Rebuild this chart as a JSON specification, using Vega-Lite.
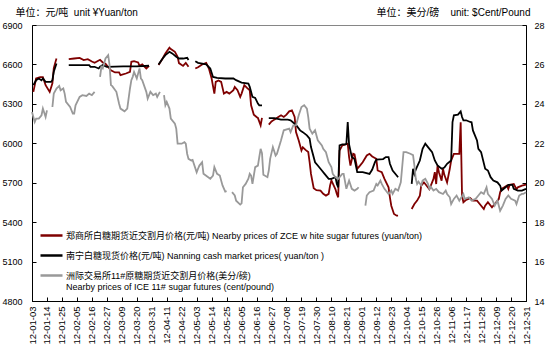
{
"$schema":"https://vega.github.io/schema/vega-lite/v6.json",
"width":494,"height":276,
"autosize":{"type":"none"},
"padding":{"left":32,"top":25,"right":21,"bottom":50},
"config":{"view":{"stroke":"#868686","strokeWidth":1},"font":"Liberation Sans, Noto Sans CJK SC",
 "axis":{"labelFont":"Liberation Sans","labelFontSize":9,"labelColor":"#000","domainColor":"#000","tickColor":"#000","grid":false,"labelOverlap":false,"titleFont":"Liberation Sans, Noto Sans CJK SC","titleFontSize":10,"titleFontWeight":"normal","titleColor":"#000"},
 "axisX":{"labelOverlap":false},"axisY":{"labelOverlap":false},
 "legend":{"labelFont":"Liberation Sans, Noto Sans CJK SC","labelFontSize":9,"labelColor":"#000"}},
"datasets":{
"cny":[
{"s":"Z","d":"2012/01/04","v":6391},{"s":"Z","d":"2012/01/06","v":6493},{"s":"Z","d":"2012/01/09","v":6503},{"s":"Z","d":"2012/01/11","v":6503},{"s":"Z","d":"2012/01/13","v":6442},{"s":"Z","d":"2012/01/16","v":6391},{"s":"Z","d":"2012/01/18","v":6457},{"s":"Z","d":"2012/01/19","v":6572},{"s":"Z","d":"2012/01/20","v":6610},{"s":"Z","d":"2012/01/21","v":6645},{"s":"Z","d":"2012/01/25","v":null},
{"s":"Z","d":"2012/01/30","v":6640},{"s":"Z","d":"2012/02/03","v":6645},{"s":"Z","d":"2012/02/07","v":6650},{"s":"Z","d":"2012/02/10","v":6633},{"s":"Z","d":"2012/02/13","v":6640},{"s":"Z","d":"2012/02/16","v":6622},{"s":"Z","d":"2012/02/18","v":6612},{"s":"Z","d":"2012/02/22","v":6635},{"s":"Z","d":"2012/02/24","v":6615},{"s":"Z","d":"2012/02/26","v":6605},{"s":"Z","d":"2012/03/01","v":6556},{"s":"Z","d":"2012/03/04","v":6539},{"s":"Z","d":"2012/03/07","v":6539},{"s":"Z","d":"2012/03/08","v":6518},{"s":"Z","d":"2012/03/12","v":6531},{"s":"Z","d":"2012/03/15","v":6544},{"s":"Z","d":"2012/03/16","v":6620},{"s":"Z","d":"2012/03/18","v":6625},{"s":"Z","d":"2012/03/21","v":6615},{"s":"Z","d":"2012/03/22","v":6589},{"s":"Z","d":"2012/03/24","v":6600},{"s":"Z","d":"2012/03/27","v":6569},{"s":"Z","d":"2012/03/29","v":6589},{"s":"Z","d":"2012/04/02","v":null},
{"s":"Z","d":"2012/04/05","v":6595},{"s":"Z","d":"2012/04/08","v":6645},{"s":"Z","d":"2012/04/10","v":6684},{"s":"Z","d":"2012/04/13","v":6727},{"s":"Z","d":"2012/04/14","v":6717},{"s":"Z","d":"2012/04/17","v":6696},{"s":"Z","d":"2012/04/19","v":6658},{"s":"Z","d":"2012/04/20","v":6610},{"s":"Z","d":"2012/04/23","v":6589},{"s":"Z","d":"2012/04/25","v":6612},{"s":"Z","d":"2012/04/27","v":6582},{"s":"Z","d":"2012/04/30","v":null},
{"s":"Z","d":"2012/05/02","v":6569},{"s":"Z","d":"2012/05/04","v":6579},{"s":"Z","d":"2012/05/07","v":6600},{"s":"Z","d":"2012/05/10","v":6612},{"s":"Z","d":"2012/05/12","v":6569},{"s":"Z","d":"2012/05/14","v":6493},{"s":"Z","d":"2012/05/16","v":6378},{"s":"Z","d":"2012/05/17","v":6467},{"s":"Z","d":"2012/05/19","v":6478},{"s":"Z","d":"2012/05/21","v":6467},{"s":"Z","d":"2012/05/23","v":6378},{"s":"Z","d":"2012/05/25","v":6391},{"s":"Z","d":"2012/05/27","v":6378},{"s":"Z","d":"2012/05/30","v":6404},{"s":"Z","d":"2012/05/31","v":6429},{"s":"Z","d":"2012/06/02","v":6404},{"s":"Z","d":"2012/06/04","v":6353},{"s":"Z","d":"2012/06/05","v":6378},{"s":"Z","d":"2012/06/07","v":6442},{"s":"Z","d":"2012/06/09","v":6421},{"s":"Z","d":"2012/06/11","v":6404},{"s":"Z","d":"2012/06/12","v":6289},{"s":"Z","d":"2012/06/14","v":6218},{"s":"Z","d":"2012/06/16","v":6200},{"s":"Z","d":"2012/06/17","v":6193},{"s":"Z","d":"2012/06/19","v":6136},{"s":"Z","d":"2012/06/20","v":6193},{"s":"Z","d":"2012/06/22","v":null},
{"s":"Z","d":"2012/06/25","v":6142},{"s":"Z","d":"2012/06/27","v":6166},{"s":"Z","d":"2012/06/29","v":6180},{"s":"Z","d":"2012/07/02","v":6200},{"s":"Z","d":"2012/07/04","v":6213},{"s":"Z","d":"2012/07/06","v":6200},{"s":"Z","d":"2012/07/08","v":6218},{"s":"Z","d":"2012/07/10","v":6243},{"s":"Z","d":"2012/07/12","v":6251},{"s":"Z","d":"2012/07/14","v":6200},{"s":"Z","d":"2012/07/15","v":6085},{"s":"Z","d":"2012/07/17","v":6022},{"s":"Z","d":"2012/07/19","v":5945},{"s":"Z","d":"2012/07/20","v":5970},{"s":"Z","d":"2012/07/22","v":5950},{"s":"Z","d":"2012/07/24","v":5933},{"s":"Z","d":"2012/07/25","v":5856},{"s":"Z","d":"2012/07/26","v":5767},{"s":"Z","d":"2012/07/28","v":5658},{"s":"Z","d":"2012/07/30","v":5643},{"s":"Z","d":"2012/08/02","v":5640},{"s":"Z","d":"2012/08/04","v":5615},{"s":"Z","d":"2012/08/06","v":5602},{"s":"Z","d":"2012/08/08","v":5615},{"s":"Z","d":"2012/08/09","v":5678},{"s":"Z","d":"2012/08/10","v":5717},{"s":"Z","d":"2012/08/13","v":5650},{"s":"Z","d":"2012/08/14","v":5615},{"s":"Z","d":"2012/08/15","v":5589},{"s":"Z","d":"2012/08/16","v":5945},{"s":"Z","d":"2012/08/18","v":5984},{"s":"Z","d":"2012/08/20","v":5990},{"s":"Z","d":"2012/08/22","v":5997},{"s":"Z","d":"2012/08/23","v":5895},{"s":"Z","d":"2012/08/24","v":5831},{"s":"Z","d":"2012/08/26","v":5920},{"s":"Z","d":"2012/08/27","v":5915},{"s":"Z","d":"2012/08/29","v":5806},{"s":"Z","d":"2012/08/31","v":5830},{"s":"Z","d":"2012/09/02","v":5856},{"s":"Z","d":"2012/09/05","v":5907},{"s":"Z","d":"2012/09/07","v":5920},{"s":"Z","d":"2012/09/09","v":5900},{"s":"Z","d":"2012/09/12","v":5882},{"s":"Z","d":"2012/09/13","v":5793},{"s":"Z","d":"2012/09/16","v":5780},{"s":"Z","d":"2012/09/18","v":5729},{"s":"Z","d":"2012/09/21","v":5665},{"s":"Z","d":"2012/09/22","v":5589},{"s":"Z","d":"2012/09/23","v":5525},{"s":"Z","d":"2012/09/25","v":5462},{"s":"Z","d":"2012/09/27","v":5449},{"s":"Z","d":"2012/09/28","v":5449},{"s":"Z","d":"2012/10/03","v":null},
{"s":"Z","d":"2012/10/08","v":5500},{"s":"Z","d":"2012/10/10","v":5538},{"s":"Z","d":"2012/10/12","v":5564},{"s":"Z","d":"2012/10/14","v":5602},{"s":"Z","d":"2012/10/15","v":5678},{"s":"Z","d":"2012/10/17","v":5703},{"s":"Z","d":"2012/10/18","v":5690},{"s":"Z","d":"2012/10/21","v":5650},{"s":"Z","d":"2012/10/24","v":5729},{"s":"Z","d":"2012/10/25","v":5780},{"s":"Z","d":"2012/10/26","v":5690},{"s":"Z","d":"2012/10/27","v":5831},{"s":"Z","d":"2012/10/28","v":5780},{"s":"Z","d":"2012/10/30","v":5716},{"s":"Z","d":"2012/10/31","v":5806},{"s":"Z","d":"2012/11/01","v":5760},{"s":"Z","d":"2012/11/03","v":5703},{"s":"Z","d":"2012/11/05","v":5806},{"s":"Z","d":"2012/11/06","v":5869},{"s":"Z","d":"2012/11/08","v":5920},{"s":"Z","d":"2012/11/12","v":5920},{"s":"Z","d":"2012/11/13","v":6160},{"s":"Z","d":"2012/11/14","v":5600},{"s":"Z","d":"2012/11/15","v":5551},{"s":"Z","d":"2012/11/17","v":5570},{"s":"Z","d":"2012/11/20","v":5583},{"s":"Z","d":"2012/11/22","v":5564},{"s":"Z","d":"2012/11/25","v":5564},{"s":"Z","d":"2012/11/27","v":5538},{"s":"Z","d":"2012/11/30","v":5500},{"s":"Z","d":"2012/12/01","v":5525},{"s":"Z","d":"2012/12/03","v":5551},{"s":"Z","d":"2012/12/06","v":5513},{"s":"Z","d":"2012/12/08","v":5538},{"s":"Z","d":"2012/12/11","v":5576},{"s":"Z","d":"2012/12/12","v":5627},{"s":"Z","d":"2012/12/13","v":5653},{"s":"Z","d":"2012/12/15","v":5665},{"s":"Z","d":"2012/12/17","v":5678},{"s":"Z","d":"2012/12/18","v":5653},{"s":"Z","d":"2012/12/19","v":5685},{"s":"Z","d":"2012/12/22","v":5690},{"s":"Z","d":"2012/12/24","v":5650},{"s":"Z","d":"2012/12/25","v":5665},{"s":"Z","d":"2012/12/28","v":5678},{"s":"Z","d":"2012/12/31","v":5685},
{"s":"N","d":"2012/01/04","v":6442},{"s":"N","d":"2012/01/06","v":6480},{"s":"N","d":"2012/01/08","v":6493},{"s":"N","d":"2012/01/10","v":6480},{"s":"N","d":"2012/01/11","v":6493},{"s":"N","d":"2012/01/13","v":6467},{"s":"N","d":"2012/01/15","v":6467},{"s":"N","d":"2012/01/17","v":6467},{"s":"N","d":"2012/01/18","v":6480},{"s":"N","d":"2012/01/19","v":6544},{"s":"N","d":"2012/01/21","v":6607},{"s":"N","d":"2012/01/25","v":null},
{"s":"N","d":"2012/01/30","v":6595},{"s":"N","d":"2012/02/07","v":6595},{"s":"N","d":"2012/02/14","v":6595},{"s":"N","d":"2012/02/15","v":6582},{"s":"N","d":"2012/02/18","v":6582},{"s":"N","d":"2012/02/21","v":6569},{"s":"N","d":"2012/02/22","v":6582},{"s":"N","d":"2012/02/24","v":6595},{"s":"N","d":"2012/02/27","v":6582},{"s":"N","d":"2012/03/10","v":6585},{"s":"N","d":"2012/03/20","v":6585},{"s":"N","d":"2012/03/29","v":6590},{"s":"N","d":"2012/04/02","v":null},
{"s":"N","d":"2012/04/05","v":6600},{"s":"N","d":"2012/04/08","v":6645},{"s":"N","d":"2012/04/10","v":6671},{"s":"N","d":"2012/04/13","v":6696},{"s":"N","d":"2012/04/15","v":6684},{"s":"N","d":"2012/04/18","v":6658},{"s":"N","d":"2012/04/20","v":6645},{"s":"N","d":"2012/04/23","v":6645},{"s":"N","d":"2012/04/26","v":6650},{"s":"N","d":"2012/04/27","v":6633},{"s":"N","d":"2012/04/30","v":null},
{"s":"N","d":"2012/05/02","v":6625},{"s":"N","d":"2012/05/04","v":6612},{"s":"N","d":"2012/05/10","v":6600},{"s":"N","d":"2012/05/13","v":6569},{"s":"N","d":"2012/05/15","v":6505},{"s":"N","d":"2012/05/18","v":6498},{"s":"N","d":"2012/05/24","v":6493},{"s":"N","d":"2012/05/30","v":6493},{"s":"N","d":"2012/06/01","v":6480},{"s":"N","d":"2012/06/05","v":6462},{"s":"N","d":"2012/06/10","v":6455},{"s":"N","d":"2012/06/11","v":6429},{"s":"N","d":"2012/06/13","v":6353},{"s":"N","d":"2012/06/15","v":6345},{"s":"N","d":"2012/06/17","v":6302},{"s":"N","d":"2012/06/18","v":6289},{"s":"N","d":"2012/06/20","v":6289},{"s":"N","d":"2012/06/22","v":null},
{"s":"N","d":"2012/06/25","v":6192},{"s":"N","d":"2012/06/29","v":6192},{"s":"N","d":"2012/07/04","v":6180},{"s":"N","d":"2012/07/09","v":6180},{"s":"N","d":"2012/07/11","v":6175},{"s":"N","d":"2012/07/14","v":6149},{"s":"N","d":"2012/07/15","v":6140},{"s":"N","d":"2012/07/18","v":6098},{"s":"N","d":"2012/07/20","v":6085},{"s":"N","d":"2012/07/23","v":6060},{"s":"N","d":"2012/07/25","v":6035},{"s":"N","d":"2012/07/26","v":5971},{"s":"N","d":"2012/07/29","v":5856},{"s":"N","d":"2012/07/31","v":5831},{"s":"N","d":"2012/08/03","v":5793},{"s":"N","d":"2012/08/05","v":5767},{"s":"N","d":"2012/08/08","v":5729},{"s":"N","d":"2012/08/10","v":5729},{"s":"N","d":"2012/08/13","v":5742},{"s":"N","d":"2012/08/14","v":5691},{"s":"N","d":"2012/08/15","v":5665},{"s":"N","d":"2012/08/16","v":5984},{"s":"N","d":"2012/08/18","v":5991},{"s":"N","d":"2012/08/20","v":5991},{"s":"N","d":"2012/08/21","v":5995},{"s":"N","d":"2012/08/22","v":6162},{"s":"N","d":"2012/08/23","v":5991},{"s":"N","d":"2012/08/25","v":5895},{"s":"N","d":"2012/08/27","v":5880},{"s":"N","d":"2012/08/29","v":5780},{"s":"N","d":"2012/09/02","v":5780},{"s":"N","d":"2012/09/07","v":5767},{"s":"N","d":"2012/09/09","v":5800},{"s":"N","d":"2012/09/11","v":5856},{"s":"N","d":"2012/09/12","v":5875},{"s":"N","d":"2012/09/17","v":5880},{"s":"N","d":"2012/09/19","v":5895},{"s":"N","d":"2012/09/21","v":5895},{"s":"N","d":"2012/09/22","v":5844},{"s":"N","d":"2012/09/24","v":5793},{"s":"N","d":"2012/09/27","v":5755},{"s":"N","d":"2012/09/28","v":5742},{"s":"N","d":"2012/10/03","v":null},
{"s":"N","d":"2012/10/08","v":5691},{"s":"N","d":"2012/10/09","v":5806},{"s":"N","d":"2012/10/10","v":5767},{"s":"N","d":"2012/10/11","v":5800},{"s":"N","d":"2012/10/14","v":5869},{"s":"N","d":"2012/10/16","v":5958},{"s":"N","d":"2012/10/18","v":5997},{"s":"N","d":"2012/10/20","v":5971},{"s":"N","d":"2012/10/23","v":5933},{"s":"N","d":"2012/10/25","v":5869},{"s":"N","d":"2012/10/27","v":5831},{"s":"N","d":"2012/10/30","v":5806},{"s":"N","d":"2012/11/01","v":5815},{"s":"N","d":"2012/11/03","v":5844},{"s":"N","d":"2012/11/06","v":5869},{"s":"N","d":"2012/11/07","v":6162},{"s":"N","d":"2012/11/08","v":6213},{"s":"N","d":"2012/11/11","v":6218},{"s":"N","d":"2012/11/13","v":6243},{"s":"N","d":"2012/11/14","v":6200},{"s":"N","d":"2012/11/15","v":6175},{"s":"N","d":"2012/11/17","v":6175},{"s":"N","d":"2012/11/20","v":6162},{"s":"N","d":"2012/11/21","v":6160},{"s":"N","d":"2012/11/22","v":6098},{"s":"N","d":"2012/11/25","v":6022},{"s":"N","d":"2012/11/26","v":5958},{"s":"N","d":"2012/11/28","v":5933},{"s":"N","d":"2012/12/01","v":5806},{"s":"N","d":"2012/12/03","v":5793},{"s":"N","d":"2012/12/05","v":5742},{"s":"N","d":"2012/12/07","v":5717},{"s":"N","d":"2012/12/10","v":5703},{"s":"N","d":"2012/12/12","v":5678},{"s":"N","d":"2012/12/13","v":5640},{"s":"N","d":"2012/12/16","v":5665},{"s":"N","d":"2012/12/18","v":5684},{"s":"N","d":"2012/12/21","v":5684},{"s":"N","d":"2012/12/22","v":5653},{"s":"N","d":"2012/12/25","v":5640},{"s":"N","d":"2012/12/28","v":5640},{"s":"N","d":"2012/12/31","v":5653}],
"ice":[
{"s":"I","d":"2012/01/03","v":23.59},{"s":"I","d":"2012/01/05","v":23.08},{"s":"I","d":"2012/01/06","v":23.25},{"s":"I","d":"2012/01/08","v":23.25},{"s":"I","d":"2012/01/10","v":23.42},{"s":"I","d":"2012/01/11","v":23.76},{"s":"I","d":"2012/01/13","v":23.33},{"s":"I","d":"2012/01/14","v":23.67},{"s":"I","d":"2012/01/16","v":null},
{"s":"I","d":"2012/01/18","v":23.84},{"s":"I","d":"2012/01/19","v":24.52},{"s":"I","d":"2012/01/21","v":24.78},{"s":"I","d":"2012/01/23","v":24.91},{"s":"I","d":"2012/01/24","v":24.69},{"s":"I","d":"2012/01/26","v":24.78},{"s":"I","d":"2012/01/27","v":24.52},{"s":"I","d":"2012/01/28","v":24.10},{"s":"I","d":"2012/01/31","v":23.84},{"s":"I","d":"2012/02/02","v":23.51},{"s":"I","d":"2012/02/03","v":23.51},{"s":"I","d":"2012/02/04","v":23.93},{"s":"I","d":"2012/02/07","v":24.35},{"s":"I","d":"2012/02/09","v":24.44},{"s":"I","d":"2012/02/12","v":24.40},{"s":"I","d":"2012/02/14","v":24.52},{"s":"I","d":"2012/02/16","v":24.44},{"s":"I","d":"2012/02/18","v":24.61},{"s":"I","d":"2012/02/20","v":null},
{"s":"I","d":"2012/02/22","v":25.37},{"s":"I","d":"2012/02/23","v":25.88},{"s":"I","d":"2012/02/24","v":25.80},{"s":"I","d":"2012/02/26","v":26.30},{"s":"I","d":"2012/02/28","v":26.47},{"s":"I","d":"2012/02/29","v":25.96},{"s":"I","d":"2012/03/01","v":24.95},{"s":"I","d":"2012/03/02","v":24.90},{"s":"I","d":"2012/03/05","v":24.61},{"s":"I","d":"2012/03/07","v":24.01},{"s":"I","d":"2012/03/08","v":23.76},{"s":"I","d":"2012/03/11","v":23.62},{"s":"I","d":"2012/03/13","v":23.76},{"s":"I","d":"2012/03/15","v":24.78},{"s":"I","d":"2012/03/16","v":25.20},{"s":"I","d":"2012/03/17","v":25.37},{"s":"I","d":"2012/03/18","v":25.62},{"s":"I","d":"2012/03/20","v":25.29},{"s":"I","d":"2012/03/22","v":25.80},{"s":"I","d":"2012/03/23","v":25.29},{"s":"I","d":"2012/03/24","v":25.20},{"s":"I","d":"2012/03/27","v":24.61},{"s":"I","d":"2012/03/28","v":24.27},{"s":"I","d":"2012/03/30","v":24.61},{"s":"I","d":"2012/04/01","v":24.44},{"s":"I","d":"2012/04/03","v":24.52},{"s":"I","d":"2012/04/04","v":24.35},{"s":"I","d":"2012/04/06","v":24.61},{"s":"I","d":"2012/04/07","v":null},
{"s":"I","d":"2012/04/09","v":24.44},{"s":"I","d":"2012/04/10","v":23.93},{"s":"I","d":"2012/04/11","v":24.10},{"s":"I","d":"2012/04/13","v":23.76},{"s":"I","d":"2012/04/14","v":23.25},{"s":"I","d":"2012/04/17","v":23.00},{"s":"I","d":"2012/04/18","v":22.74},{"s":"I","d":"2012/04/19","v":21.98},{"s":"I","d":"2012/04/22","v":21.98},{"s":"I","d":"2012/04/24","v":22.06},{"s":"I","d":"2012/04/25","v":21.98},{"s":"I","d":"2012/04/26","v":21.47},{"s":"I","d":"2012/04/27","v":21.21},{"s":"I","d":"2012/04/29","v":21.13},{"s":"I","d":"2012/04/30","v":21.16},{"s":"I","d":"2012/05/03","v":20.53},{"s":"I","d":"2012/05/04","v":20.71},{"s":"I","d":"2012/05/05","v":20.87},{"s":"I","d":"2012/05/07","v":21.04},{"s":"I","d":"2012/05/08","v":20.45},{"s":"I","d":"2012/05/10","v":20.35},{"s":"I","d":"2012/05/13","v":20.20},{"s":"I","d":"2012/05/15","v":20.36},{"s":"I","d":"2012/05/16","v":20.79},{"s":"I","d":"2012/05/18","v":20.45},{"s":"I","d":"2012/05/20","v":20.36},{"s":"I","d":"2012/05/22","v":19.86},{"s":"I","d":"2012/05/24","v":19.55},{"s":"I","d":"2012/05/25","v":19.57},{"s":"I","d":"2012/05/27","v":null},
{"s":"I","d":"2012/05/29","v":19.52},{"s":"I","d":"2012/05/31","v":19.35},{"s":"I","d":"2012/06/01","v":19.09},{"s":"I","d":"2012/06/04","v":18.89},{"s":"I","d":"2012/06/05","v":18.95},{"s":"I","d":"2012/06/06","v":19.77},{"s":"I","d":"2012/06/08","v":19.94},{"s":"I","d":"2012/06/10","v":20.20},{"s":"I","d":"2012/06/11","v":20.45},{"s":"I","d":"2012/06/12","v":20.36},{"s":"I","d":"2012/06/13","v":19.94},{"s":"I","d":"2012/06/15","v":20.79},{"s":"I","d":"2012/06/17","v":20.87},{"s":"I","d":"2012/06/18","v":21.30},{"s":"I","d":"2012/06/19","v":21.72},{"s":"I","d":"2012/06/20","v":21.50},{"s":"I","d":"2012/06/21","v":20.40},{"s":"I","d":"2012/06/24","v":20.28},{"s":"I","d":"2012/06/25","v":20.62},{"s":"I","d":"2012/06/26","v":21.21},{"s":"I","d":"2012/06/28","v":21.81},{"s":"I","d":"2012/06/30","v":21.38},{"s":"I","d":"2012/07/01","v":21.47},{"s":"I","d":"2012/07/04","v":22.15},{"s":"I","d":"2012/07/06","v":22.66},{"s":"I","d":"2012/07/10","v":22.74},{"s":"I","d":"2012/07/11","v":22.57},{"s":"I","d":"2012/07/13","v":22.91},{"s":"I","d":"2012/07/15","v":22.91},{"s":"I","d":"2012/07/17","v":23.42},{"s":"I","d":"2012/07/19","v":23.84},{"s":"I","d":"2012/07/21","v":23.93},{"s":"I","d":"2012/07/23","v":23.76},{"s":"I","d":"2012/07/24","v":23.33},{"s":"I","d":"2012/07/25","v":22.74},{"s":"I","d":"2012/07/27","v":22.49},{"s":"I","d":"2012/07/29","v":22.66},{"s":"I","d":"2012/07/31","v":22.15},{"s":"I","d":"2012/08/03","v":21.89},{"s":"I","d":"2012/08/04","v":21.72},{"s":"I","d":"2012/08/06","v":21.55},{"s":"I","d":"2012/08/08","v":21.04},{"s":"I","d":"2012/08/10","v":20.79},{"s":"I","d":"2012/08/11","v":20.45},{"s":"I","d":"2012/08/13","v":20.28},{"s":"I","d":"2012/08/15","v":20.20},{"s":"I","d":"2012/08/18","v":20.45},{"s":"I","d":"2012/08/19","v":20.45},{"s":"I","d":"2012/08/21","v":19.69},{"s":"I","d":"2012/08/23","v":20.11},{"s":"I","d":"2012/08/25","v":19.69},{"s":"I","d":"2012/08/27","v":19.60},{"s":"I","d":"2012/08/29","v":19.69},{"s":"I","d":"2012/08/30","v":19.77},{"s":"I","d":"2012/09/02","v":null},
{"s":"I","d":"2012/09/04","v":18.84},{"s":"I","d":"2012/09/05","v":19.35},{"s":"I","d":"2012/09/07","v":19.52},{"s":"I","d":"2012/09/10","v":19.60},{"s":"I","d":"2012/09/12","v":19.94},{"s":"I","d":"2012/09/13","v":19.86},{"s":"I","d":"2012/09/15","v":20.11},{"s":"I","d":"2012/09/16","v":19.94},{"s":"I","d":"2012/09/18","v":19.69},{"s":"I","d":"2012/09/21","v":19.43},{"s":"I","d":"2012/09/23","v":19.60},{"s":"I","d":"2012/09/24","v":19.43},{"s":"I","d":"2012/09/26","v":19.69},{"s":"I","d":"2012/09/28","v":19.60},{"s":"I","d":"2012/09/30","v":20.02},{"s":"I","d":"2012/10/02","v":21.55},{"s":"I","d":"2012/10/04","v":21.55},{"s":"I","d":"2012/10/07","v":21.47},{"s":"I","d":"2012/10/09","v":21.40},{"s":"I","d":"2012/10/10","v":20.87},{"s":"I","d":"2012/10/11","v":20.20},{"s":"I","d":"2012/10/12","v":19.94},{"s":"I","d":"2012/10/13","v":20.05},{"s":"I","d":"2012/10/15","v":19.86},{"s":"I","d":"2012/10/16","v":20.11},{"s":"I","d":"2012/10/18","v":20.20},{"s":"I","d":"2012/10/20","v":19.94},{"s":"I","d":"2012/10/21","v":19.69},{"s":"I","d":"2012/10/22","v":19.80},{"s":"I","d":"2012/10/24","v":19.60},{"s":"I","d":"2012/10/26","v":19.69},{"s":"I","d":"2012/10/28","v":19.52},{"s":"I","d":"2012/10/31","v":19.43},{"s":"I","d":"2012/11/02","v":19.60},{"s":"I","d":"2012/11/03","v":19.43},{"s":"I","d":"2012/11/05","v":19.26},{"s":"I","d":"2012/11/06","v":18.92},{"s":"I","d":"2012/11/08","v":19.18},{"s":"I","d":"2012/11/10","v":19.35},{"s":"I","d":"2012/11/12","v":19.09},{"s":"I","d":"2012/11/15","v":19.43},{"s":"I","d":"2012/11/16","v":19.18},{"s":"I","d":"2012/11/19","v":19.26},{"s":"I","d":"2012/11/21","v":19.09},{"s":"I","d":"2012/11/24","v":19.18},{"s":"I","d":"2012/11/26","v":19.35},{"s":"I","d":"2012/11/28","v":19.52},{"s":"I","d":"2012/11/30","v":19.43},{"s":"I","d":"2012/12/02","v":19.77},{"s":"I","d":"2012/12/03","v":19.43},{"s":"I","d":"2012/12/06","v":19.18},{"s":"I","d":"2012/12/08","v":18.84},{"s":"I","d":"2012/12/10","v":19.10},{"s":"I","d":"2012/12/12","v":18.58},{"s":"I","d":"2012/12/14","v":18.84},{"s":"I","d":"2012/12/16","v":19.18},{"s":"I","d":"2012/12/18","v":19.35},{"s":"I","d":"2012/12/20","v":19.18},{"s":"I","d":"2012/12/23","v":19.09},{"s":"I","d":"2012/12/24","v":18.92},{"s":"I","d":"2012/12/26","v":19.35},{"s":"I","d":"2012/12/28","v":19.43},{"s":"I","d":"2012/12/29","v":19.43},{"s":"I","d":"2012/12/31","v":19.52}]
},
"encoding":{
 "x":{"field":"d","type":"temporal","scale":{"domain":[{"year":2012,"month":1,"date":3},{"year":2012,"month":12,"date":31}],"nice":false},
  "axis":{"title":null,"orient":"bottom","format":"%y-%m-%d","labelAngle":-90,"labelFontSize":9.5,"tickSize":-4,"labelPadding":9,"labelFlush":false,"labelOverlap":false,
   "values":[{"year":2012,"month":1,"date":3},{"year":2012,"month":1,"date":14},{"year":2012,"month":1,"date":25},{"year":2012,"month":2,"date":5},{"year":2012,"month":2,"date":16},{"year":2012,"month":2,"date":27},{"year":2012,"month":3,"date":9},{"year":2012,"month":3,"date":20},{"year":2012,"month":3,"date":31},{"year":2012,"month":4,"date":11},{"year":2012,"month":4,"date":22},{"year":2012,"month":5,"date":3},{"year":2012,"month":5,"date":14},{"year":2012,"month":5,"date":25},{"year":2012,"month":6,"date":5},{"year":2012,"month":6,"date":16},{"year":2012,"month":6,"date":27},{"year":2012,"month":7,"date":8},{"year":2012,"month":7,"date":19},{"year":2012,"month":7,"date":30},{"year":2012,"month":8,"date":10},{"year":2012,"month":8,"date":21},{"year":2012,"month":9,"date":1},{"year":2012,"month":9,"date":12},{"year":2012,"month":9,"date":23},{"year":2012,"month":10,"date":4},{"year":2012,"month":10,"date":15},{"year":2012,"month":10,"date":26},{"year":2012,"month":11,"date":6},{"year":2012,"month":11,"date":17},{"year":2012,"month":11,"date":28},{"year":2012,"month":12,"date":9},{"year":2012,"month":12,"date":20},{"year":2012,"month":12,"date":31}]}}
},
"layer":[
  {"data":{"name":"cny"},
   "mark":{"type":"line","strokeWidth":1.8},
   "encoding":{
    "y":{"field":"v","type":"quantitative","scale":{"domain":[4800,6900],"zero":false,"nice":false},
     "axis":{"orient":"left","values":[4800,5100,5400,5700,6000,6300,6600,6900],"format":"d","tickSize":-4,"labelPadding":14,"labelOverlap":false,
      "title":"单位：元/吨\u00a0\u00a0unit ¥Yuan/ton","titleAngle":0,"titleAlign":"left","titleBaseline":"middle","titleX":-17,"titleY":-13}},
    "color":{"field":"s","type":"nominal","scale":{"domain":["Z","N","I"],"range":["#7f0000","#000000","#999999"]},
     "legend":{"orient":"none","legendX":7,"legendY":198,"title":null,"symbolType":"stroke","symbolSize":484,"symbolStrokeWidth":2.5,"rowPadding":2,"labelOffset":2,"labelLimit":0,
      "labelExpr":"datum.value == 'Z' ? '郑商所白糖期货近交割月价格(元/吨) Nearby prices of ZCE w hite sugar futures (yuan/ton)' : datum.value == 'N' ? '南宁白糖现货价格(元/吨) Nanning cash market prices( yuan/ton )' : ['洲际交易所11#原糖期货近交割月价格(美分/磅)', 'Nearby prices of ICE 11# sugar futures (cent/pound)']"}}}},
  {"data":{"name":"ice"},
   "mark":{"type":"line","strokeWidth":1.8},
   "encoding":{
    "y":{"field":"v","type":"quantitative","scale":{"domain":[14,28],"zero":false,"nice":false},
     "axis":{"orient":"right","values":[14,16,18,20,22,24,26,28],"tickSize":-4,"labelPadding":12,"labelOverlap":false,
      "title":"单位：美分/磅\u00a0\u00a0\u00a0\u00a0unit: $Cent/Pound","titleAngle":0,"titleAlign":"right","titleBaseline":"middle","titleX":4,"titleY":-13}},
    "color":{"field":"s","type":"nominal"}}}
],
"resolve":{"scale":{"y":"independent"}}
}
